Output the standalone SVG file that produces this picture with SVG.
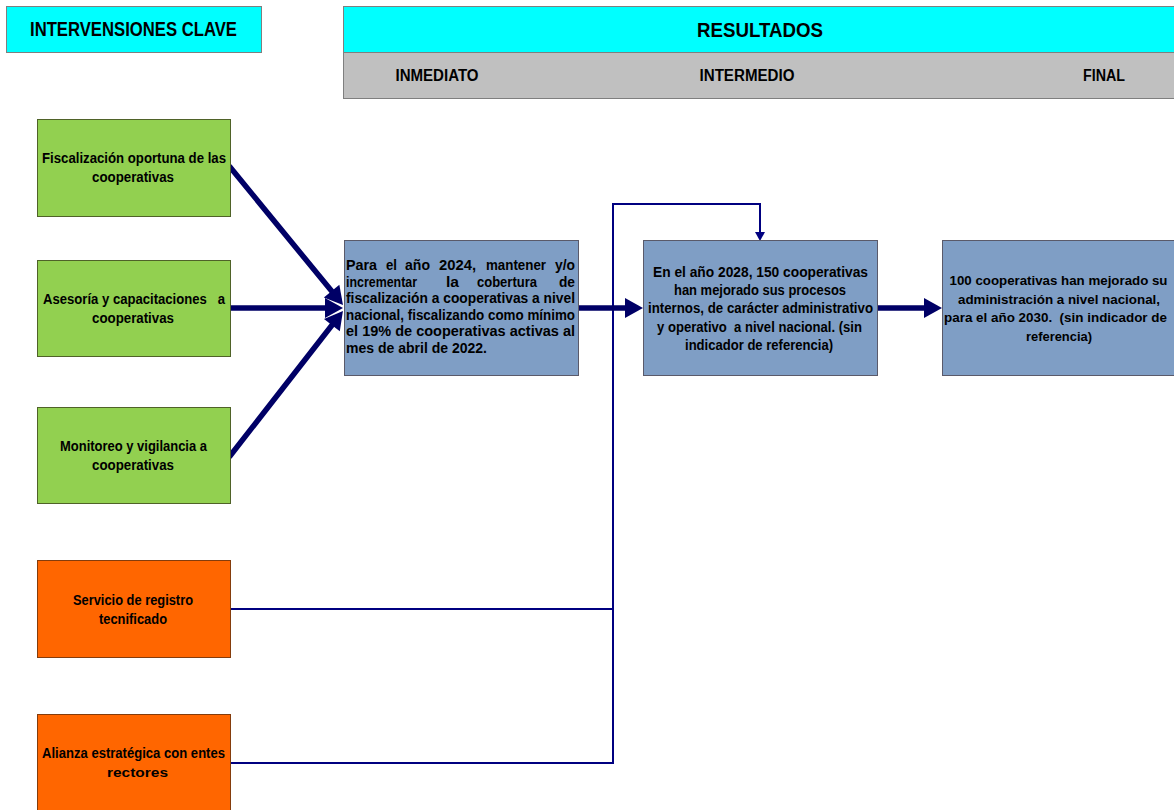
<svg xmlns="http://www.w3.org/2000/svg" width="1174" height="810" viewBox="0 0 1174 810">
<style>
text{font-family:"Liberation Sans",Arial,sans-serif;font-weight:bold;fill:#000;}
.h{font-size:20px;}
.s{font-size:16px;}
.t{font-size:14.5px;}
.f{font-size:13px;}
.c{text-anchor:middle;}
.cyan{fill:#00FFFF;stroke:#7f7f7f;stroke-width:1;}
.gray{fill:#C0C0C0;stroke:#7f7f7f;stroke-width:1;}
.green{fill:#92D050;stroke:#4F6228;stroke-width:1;}
.orange{fill:#FF6600;stroke:#843C0C;stroke-width:1;}
.blue{fill:#7F9EC5;stroke:#5a5a6a;stroke-width:1;}
.thick{stroke:#000066;stroke-width:5.5;fill:none;stroke-linecap:round;}
.thin{stroke:#000080;stroke-width:2;fill:none;}
</style>
<defs>
<marker id="big" markerUnits="userSpaceOnUse" markerWidth="18" markerHeight="20" refX="0" refY="10" orient="auto" overflow="visible">
<path d="M0,0 L18,10 L0,20 z" fill="#000066"/>
</marker>
<marker id="small" markerUnits="userSpaceOnUse" markerWidth="10" markerHeight="10" refX="0" refY="5" orient="auto" overflow="visible">
<path d="M0,0 L9,5 L0,10 z" fill="#000080"/>
</marker>
</defs>
<rect width="1174" height="810" fill="#fff"/>

<g id="hdr-intervensiones">
<rect class="cyan" x="6.5" y="6.5" width="255" height="46"/>
<text class="h c" x="133.5" y="36" textLength="207" lengthAdjust="spacingAndGlyphs">INTERVENSIONES CLAVE</text>
</g>
<g id="hdr-resultados">
<rect class="cyan" x="343.5" y="6.5" width="840" height="46"/>
<text class="h c" x="760" y="36.5" textLength="126" lengthAdjust="spacingAndGlyphs">RESULTADOS</text>
</g>
<g id="hdr-niveles">
<rect class="gray" x="343.5" y="52.5" width="840" height="46"/>
<text class="s c" x="437" y="81" textLength="83" lengthAdjust="spacingAndGlyphs">INMEDIATO</text>
<text class="s c" x="747" y="81" textLength="95" lengthAdjust="spacingAndGlyphs">INTERMEDIO</text>
<text class="s c" x="1104" y="81" textLength="42" lengthAdjust="spacingAndGlyphs">FINAL</text>
</g>

<g id="connectors">
<path class="thick" d="M230,167 L331.6,291.1" marker-end="url(#big)"/>
<path class="thick" d="M230,308 L325,308" marker-end="url(#big)"/>
<path class="thick" d="M230,456 L331.9,325.2" marker-end="url(#big)"/>
<path class="thin" d="M230,609 H613"/>
<path class="thin" d="M230,763 H613 V204 H760 V232" marker-end="url(#small)"/>
<path class="thick" d="M578,308 L625,308" marker-end="url(#big)"/>
<path class="thick" d="M877,308 L924,308" marker-end="url(#big)"/>
</g>

<g id="n-fiscalizacion">
<rect class="green" x="37.5" y="119.5" width="193" height="97"/>
<text class="t c" x="134" y="163" textLength="184" lengthAdjust="spacingAndGlyphs">Fiscalización oportuna de las</text>
<text class="t c" x="133" y="182" textLength="82" lengthAdjust="spacingAndGlyphs">cooperativas</text>
</g>
<g id="n-asesoria">
<rect class="green" x="37.5" y="260.5" width="193" height="96"/>
<text class="t c" x="134" y="304" textLength="182" lengthAdjust="spacingAndGlyphs" xml:space="preserve">Asesoría y capacitaciones   a</text>
<text class="t c" x="133" y="323" textLength="82" lengthAdjust="spacingAndGlyphs">cooperativas</text>
</g>
<g id="n-monitoreo">
<rect class="green" x="37.5" y="407.5" width="193" height="96"/>
<text class="t c" x="133.5" y="451" textLength="147" lengthAdjust="spacingAndGlyphs">Monitoreo y vigilancia a</text>
<text class="t c" x="133" y="470" textLength="82" lengthAdjust="spacingAndGlyphs">cooperativas</text>
</g>
<g id="n-registro">
<rect class="orange" x="37.5" y="560.5" width="193" height="97"/>
<text class="t c" x="133" y="605" textLength="120" lengthAdjust="spacingAndGlyphs">Servicio de registro</text>
<text class="t c" x="133" y="624" textLength="68" lengthAdjust="spacingAndGlyphs">tecnificado</text>
</g>
<g id="n-alianza">
<rect class="orange" x="37.5" y="714.5" width="193" height="100"/>
<text class="t c" x="133.5" y="758" textLength="183" lengthAdjust="spacingAndGlyphs">Alianza estratégica con entes</text>
<text class="t c" x="137.5" y="777" textLength="61" lengthAdjust="spacingAndGlyphs" style="font-size:13.5px">rectores</text>
</g>

<g id="n-inmediato">
<rect class="blue" x="344.5" y="240.5" width="234" height="135"/>
<text class="t" y="270" style="font-size:14px"><tspan x="346" textLength="31" lengthAdjust="spacingAndGlyphs">Para</tspan><tspan x="386" textLength="11" lengthAdjust="spacingAndGlyphs">el</tspan><tspan x="405" textLength="25" lengthAdjust="spacingAndGlyphs">año</tspan><tspan x="439" textLength="37" lengthAdjust="spacingAndGlyphs">2024,</tspan><tspan x="486" textLength="60" lengthAdjust="spacingAndGlyphs">mantener</tspan><tspan x="555" textLength="20" lengthAdjust="spacingAndGlyphs">y/o</tspan></text>
<text class="t" y="286.6"><tspan x="346" textLength="71" lengthAdjust="spacingAndGlyphs">incrementar</tspan><tspan x="446" textLength="13" lengthAdjust="spacingAndGlyphs">la</tspan><tspan x="477" textLength="60" lengthAdjust="spacingAndGlyphs">cobertura</tspan><tspan x="559" textLength="16" lengthAdjust="spacingAndGlyphs">de</tspan></text>
<text class="t" x="346" y="303.2" textLength="229" lengthAdjust="spacingAndGlyphs">fiscalización a cooperativas a nivel</text>
<text class="t" x="346" y="319.8" textLength="229" lengthAdjust="spacingAndGlyphs">nacional, fiscalizando como mínimo</text>
<text class="t" x="346" y="336.4" textLength="229" lengthAdjust="spacingAndGlyphs">el 19% de cooperativas activas al</text>
<text class="t" x="346" y="353" textLength="141" lengthAdjust="spacingAndGlyphs">mes de abril de 2022.</text>
</g>
<g id="n-intermedio">
<rect class="blue" x="643.5" y="240.5" width="234" height="135"/>
<text class="t c" x="760.5" y="277" textLength="215" lengthAdjust="spacingAndGlyphs">En el año 2028, 150 cooperativas</text>
<text class="t c" x="760" y="295.2" textLength="172" lengthAdjust="spacingAndGlyphs">han mejorado sus procesos</text>
<text class="t c" x="760.5" y="313.4" textLength="225" lengthAdjust="spacingAndGlyphs">internos, de carácter administrativo</text>
<text class="t c" x="759.5" y="331.6" textLength="205" lengthAdjust="spacingAndGlyphs" xml:space="preserve">y operativo  a nivel nacional. (sin</text>
<text class="t c" x="759" y="349.8" textLength="148" lengthAdjust="spacingAndGlyphs">indicador de referencia)</text>
</g>
<g id="n-final">
<rect class="blue" x="942.5" y="240.5" width="232" height="135"/>
<text class="f c" x="1058.5" y="285" textLength="218" lengthAdjust="spacingAndGlyphs">100 cooperativas han mejorado su</text>
<text class="f c" x="1059" y="303.5" textLength="202" lengthAdjust="spacingAndGlyphs">administración a nivel nacional,</text>
<text class="f c" x="1055.5" y="322" textLength="223" lengthAdjust="spacingAndGlyphs" xml:space="preserve">para el año 2030.  (sin indicador de</text>
<text class="f c" x="1059" y="340.5" textLength="66" lengthAdjust="spacingAndGlyphs">referencia)</text>
</g>
</svg>
